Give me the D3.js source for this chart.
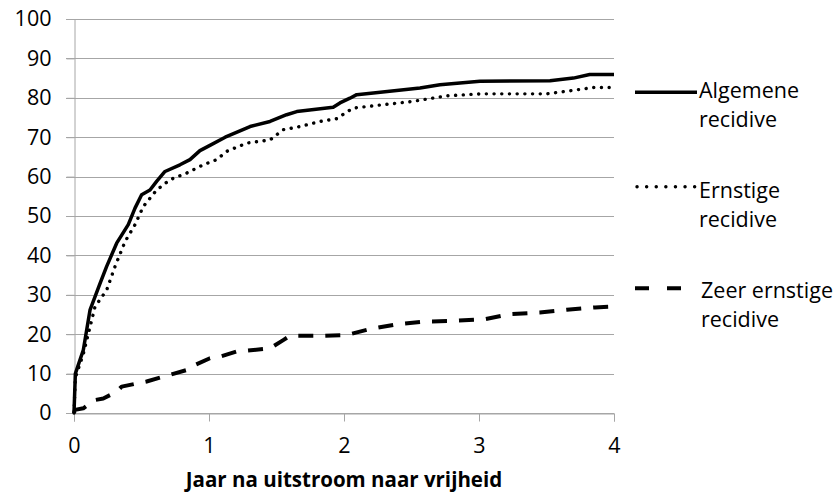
<!DOCTYPE html>
<html>
<head>
<meta charset="utf-8">
<script src="https://cdn.jsdelivr.net/npm/d3@7"></script>
<style>
  html, body { margin: 0; padding: 0; background: #fff; }
  svg { display: block; }
  text { font-family: "Open Sans", "Noto Sans", sans-serif; fill: #000; }
</style>
</head>
<body>
<svg id="chart" width="833" height="493"></svg>
<script>
// ---- data ----
const xTicks = [0, 1, 2, 3, 4];
const yTicks = [0, 10, 20, 30, 40, 50, 60, 70, 80, 90, 100];
const xTitle = "Jaar na uitstroom naar vrijheid";

const seriesNames = ["Algemene recidive", "Ernstige recidive", "Zeer ernstige recidive"];

const yearsAlg = [0, 0.01, 0.069, 0.119, 0.193, 0.242, 0.316, 0.402, 0.452, 0.501, 0.563, 0.612, 0.674, 0.785, 0.859, 0.933, 1.0, 1.12, 1.304, 1.452, 1.575, 1.65, 1.92, 1.97, 2.044, 2.094, 2.217, 2.563, 2.711, 3.007, 3.526, 3.699, 3.82, 4.0];
const alg      = [0, 10, 16, 26.2, 32.9, 37.2, 43.1, 47.8, 52, 55.4, 56.6, 58.8, 61.3, 63, 64.3, 66.6, 67.8, 70, 72.7, 74, 75.7, 76.5, 77.6, 78.7, 79.9, 80.8, 81.2, 82.5, 83.3, 84.2, 84.3, 85, 85.9, 85.9];

const yearsErn = [0, 0.01, 0.069, 0.156, 0.242, 0.304, 0.378, 0.452, 0.513, 0.612, 0.711, 0.835, 0.958, 1.057, 1.131, 1.279, 1.452, 1.55, 1.674, 1.822, 1.946, 2.02, 2.07, 2.513, 2.76, 3.007, 3.5, 3.7, 3.847, 4.0];
const ern      = [0, 9, 15, 27, 31.2, 37.2, 43.5, 47.8, 52.4, 56.6, 59.2, 60.9, 63, 64.3, 66.4, 68.5, 69.3, 71.9, 72.7, 74, 74.7, 76.4, 77.4, 79.1, 80.5, 81, 81, 81.9, 82.6, 82.6];

const yearsZeer = [0, 0.007, 0.069, 0.156, 0.217, 0.316, 0.353, 0.538, 0.711, 0.835, 0.896, 1.007, 1.08, 1.205, 1.452, 1.55, 1.6, 1.847, 2.02, 2.19, 2.39, 2.6, 2.82, 3.04, 3.23, 3.45, 3.65, 3.86, 4.0];
const zeer      = [0, 0.8, 1.2, 3.3, 3.7, 5.4, 6.7, 8, 9.7, 10.9, 12.2, 13.9, 14.3, 15.6, 16.4, 18.5, 19.6, 19.6, 19.8, 21.3, 22.5, 23.2, 23.4, 23.8, 25.1, 25.5, 26.2, 26.8, 27];

// ---- layout ----
const svg = d3.select("#chart");
const plot = { left: 74, right: 614, top: 19, bottom: 413 };

const x = d3.scaleLinear().domain([0, 4]).range([plot.left, plot.right]);
const y = d3.scaleLinear().domain([0, 100]).range([plot.bottom, plot.top]);

const gridColor = "#a6a6a6";
const fontSize = "21.5px";

// gridlines
svg.append("g")
  .selectAll("line")
  .data(yTicks)
  .join("line")
  .attr("x1", plot.left - 8)
  .attr("x2", plot.right)
  .attr("y1", d => Math.round(y(d)) + 0.5)
  .attr("y2", d => Math.round(y(d)) + 0.5)
  .attr("stroke", gridColor)
  .attr("stroke-width", 1);

// y axis
const yAxis = svg.append("g")
  .attr("transform", `translate(${plot.left + 0.5},0)`)
  .call(d3.axisLeft(y).tickValues(yTicks).tickSize(8).tickPadding(15).tickFormat(d3.format("d")));
yAxis.select(".domain").attr("stroke", gridColor);
yAxis.selectAll(".tick line").attr("stroke", gridColor);
yAxis.selectAll("text").style("font-size", fontSize).attr("fill", "#000");

// x axis
const xAxis = svg.append("g")
  .attr("transform", `translate(0,${plot.bottom + 0.5})`)
  .call(d3.axisBottom(x).tickValues(xTicks).tickSize(8).tickPadding(16).tickFormat(d3.format("d")));
xAxis.select(".domain").attr("stroke", gridColor);
xAxis.selectAll(".tick line").attr("stroke", gridColor);
xAxis.selectAll("text").style("font-size", fontSize).attr("fill", "#000");

// x title
svg.append("text")
  .attr("x", (plot.left + plot.right) / 2)
  .attr("y", 487)
  .attr("text-anchor", "middle")
  .style("font-size", "20.5px")
  .style("font-weight", "bold")
  .text(xTitle);

// series
const seriesData = [
  { name: seriesNames[0], xs: yearsAlg, ys: alg, dash: null, width: 3.5, cap: "butt" },
  { name: seriesNames[1], xs: yearsErn, ys: ern, dash: "0.1,7.6", width: 3.4, cap: "round" },
  { name: seriesNames[2], xs: yearsZeer, ys: zeer, dash: "15,12", width: 4, cap: "butt" }
];

const line = d3.line()
  .x(d => x(d[0]))
  .y(d => y(d[1]))
  .curve(d3.curveLinear);

svg.append("g")
  .selectAll("path")
  .data(seriesData)
  .join("path")
  .attr("d", s => line(s.xs.map((v, i) => [v, s.ys[i]])))
  .attr("fill", "none")
  .attr("stroke", "#000")
  .attr("stroke-width", s => s.width)
  .attr("stroke-linecap", s => s.cap)
  .attr("stroke-linejoin", "round")
  .attr("stroke-dasharray", s => s.dash);

// legend
const legendLineY = [92.3, 186.7, 288.3];
const legendTextY = [98, 197.5, 297.5];
const legend = svg.append("g");
seriesData.forEach((s, i) => {
  const g = legend.append("g");
  if (i === 2) {
    g.append("line").attr("x1", 635).attr("x2", 682).attr("y1", legendLineY[i]).attr("y2", legendLineY[i])
      .attr("stroke", "#000").attr("stroke-width", 4).attr("stroke-dasharray", "14,18");
  } else {
    g.append("line").attr("x1", i === 1 ? 637 : 635).attr("x2", 697).attr("y1", legendLineY[i]).attr("y2", legendLineY[i])
      .attr("stroke", "#000").attr("stroke-width", s.width)
      .attr("stroke-linecap", s.cap)
      .attr("stroke-dasharray", i === 1 ? "0.1,9.5" : null);
  }
  const parts = s.name.split(" ");
  const first = parts.slice(0, -1).join(" ");
  const second = parts[parts.length - 1];
  const tx = i === 2 ? 701 : 699;
  const t = g.append("text")
    .attr("x", tx)
    .attr("y", legendTextY[i])
    .style("font-size", fontSize);
  t.append("tspan").attr("x", tx).text(first);
  t.append("tspan").attr("x", tx).attr("dy", "29px").text(second);
});
</script>
</body>
</html>
